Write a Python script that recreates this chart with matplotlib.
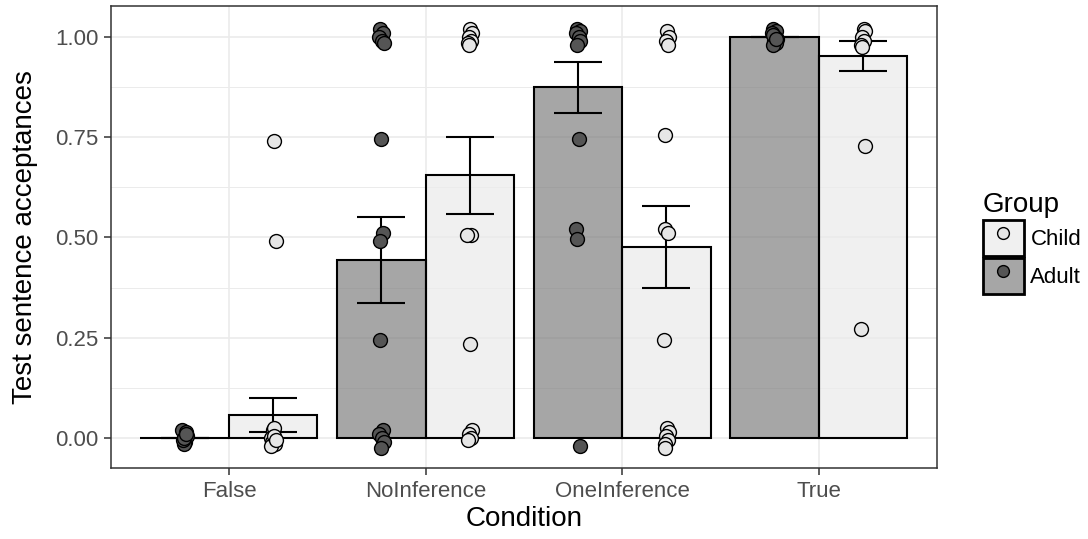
import numpy as np
import matplotlib
matplotlib.use("Agg")
import matplotlib.pyplot as plt
from matplotlib.patches import Patch
from matplotlib.lines import Line2D

plt.rcParams['font.family'] = ['Liberation Sans', 'DejaVu Sans']

# --- data ---
conditions = ["False", "NoInference", "OneInference", "True"]

adult_mean = [0.0, 0.444, 0.874, 1.0]
adult_se = [0.0, 0.107, 0.064, 0.0]
child_mean = [0.058, 0.655, 0.476, 0.953]
child_se = [0.042, 0.096, 0.103, 0.038]

# individual (jittered) responses per condition
adult_false = [0.0, 0.01, 0.02, -0.01, 0.005, -0.015, 0.015, -0.005, 0.0, 0.01]
adult_noinf = [1.02, 1.01, 1.0, 0.99, 0.985, 0.745, 0.51, 0.49, 0.245,
               0.02, 0.01, 0.0, -0.01, -0.025]
adult_oneinf = [1.02, 1.015, 1.01, 1.0, 0.99, 0.98, 0.745, 0.52, 0.495, -0.02]
adult_true = [1.02, 1.015, 1.01, 1.0, 0.995, 0.99, 0.985, 0.98, 1.005, 0.995]

child_false = [0.74, 0.49, 0.02, 0.025, 0.0, -0.01, -0.015, -0.02, 0.005, -0.005]
child_noinf = [1.02, 1.01, 1.0, 0.99, 0.985, 0.98, 0.505, 0.505, 0.235,
               0.02, 0.01, 0.0, -0.005]
child_oneinf = [1.015, 1.0, 0.99, 0.98, 0.755, 0.52, 0.51, 0.245,
                0.025, 0.015, 0.005, -0.005, -0.015, -0.025]
child_true = [1.02, 1.015, 1.0, 0.99, 0.98, 0.975, 0.727, 0.272]

adult_points = [adult_false, adult_noinf, adult_oneinf, adult_true]
child_points = [child_false, child_noinf, child_oneinf, child_true]

# fixed horizontal jitter pattern (category units)
jitter = [-0.006, 0.008, -0.012, 0.003, 0.012, -0.003, 0.006, -0.009]

ADULT_BAR = '#808080'
CHILD_BAR = '#ebebeb'
ADULT_PT = '#555555'
CHILD_PT = '#e6e6e6'
BAR_ALPHA = 0.7
LW = 1.5

fig = plt.figure(figsize=(10.88, 5.39), dpi=100)
ax = fig.add_axes([0.102, 0.1317, 0.759, 0.857])

x = np.arange(1, len(conditions) + 1)
w = 0.45

ax.set_axisbelow(True)
ax.bar(x - w / 2, adult_mean, width=w, color=ADULT_BAR, alpha=BAR_ALPHA,
       edgecolor='none', zorder=2)
ax.bar(x + w / 2, child_mean, width=w, color=CHILD_BAR, alpha=BAR_ALPHA,
       edgecolor='none', zorder=2)
# bar outlines at full opacity
ax.bar(x - w / 2, adult_mean, width=w, fill=False, edgecolor='black', linewidth=LW, zorder=2.1)
ax.bar(x + w / 2, child_mean, width=w, fill=False, edgecolor='black', linewidth=LW, zorder=2.1)

ax.errorbar(x - w / 2, adult_mean, yerr=adult_se, fmt='none', ecolor='black',
            elinewidth=LW, capsize=17, capthick=LW, zorder=3)
ax.errorbar(x + w / 2, child_mean, yerr=child_se, fmt='none', ecolor='black',
            elinewidth=LW, capsize=17, capthick=LW, zorder=3)

for i, (ap, cp) in enumerate(zip(adult_points, child_points)):
    ax_x = [x[i] - w / 2 + jitter[k % len(jitter)] for k in range(len(ap))]
    cx_x = [x[i] + w / 2 + jitter[(k + 3) % len(jitter)] for k in range(len(cp))]
    ax.scatter(ax_x, ap, s=100, color=ADULT_PT, edgecolor='black', linewidth=1.0, zorder=4)
    ax.scatter(cx_x, cp, s=100, color=CHILD_PT, edgecolor='black', linewidth=1.0, zorder=4)

ax.set_xlim(0.4, 4.6)
ax.set_ylim(-0.075, 1.077)
ax.set_xticks(x)
ax.set_xticklabels(conditions)
ax.set_yticks([0, 0.25, 0.5, 0.75, 1.0])
ax.set_yticklabels(["0.00", "0.25", "0.50", "0.75", "1.00"])
ax.set_yticks([0.125, 0.375, 0.625, 0.875], minor=True)
ax.grid(True, which='major', color='#ebebeb', linewidth=1.2)
ax.grid(True, which='minor', axis='y', color='#ebebeb', linewidth=0.7)
ax.tick_params(which='major', length=5, width=1.1, color='#333333',
               labelsize=16, labelcolor='#4d4d4d', pad=4)
ax.tick_params(which='minor', length=0)
for s in ax.spines.values():
    s.set_color('#333333')
    s.set_linewidth(1.1)

ax.set_xlabel("Condition", fontsize=20, labelpad=3)
ax.set_ylabel("Test sentence acceptances", fontsize=20, labelpad=12)

handles = [
    (Patch(facecolor=CHILD_BAR, alpha=BAR_ALPHA, edgecolor='none'),
     Patch(facecolor='none', edgecolor='black', linewidth=2.0),
     Line2D([], [], marker='o', linestyle='none', markersize=8.5,
            markerfacecolor=CHILD_PT, markeredgecolor='black', markeredgewidth=1.0)),
    (Patch(facecolor=ADULT_BAR, alpha=BAR_ALPHA, edgecolor='none'),
     Patch(facecolor='none', edgecolor='black', linewidth=2.0),
     Line2D([], [], marker='o', linestyle='none', markersize=8.5,
            markerfacecolor=ADULT_PT, markeredgecolor='black', markeredgewidth=1.0)),
]
leg = fig.legend(handles, ["Child", "Adult"], title="Group",
                 loc='upper left', bbox_to_anchor=(0.895, 0.66),
                 frameon=False, fontsize=16, title_fontsize=20,
                 handlelength=1.85, handleheight=2.1, labelspacing=0.1,
                 handletextpad=0.3, borderaxespad=0)
leg._legend_box.align = 'left'

fig.savefig("out.png", dpi=100)
